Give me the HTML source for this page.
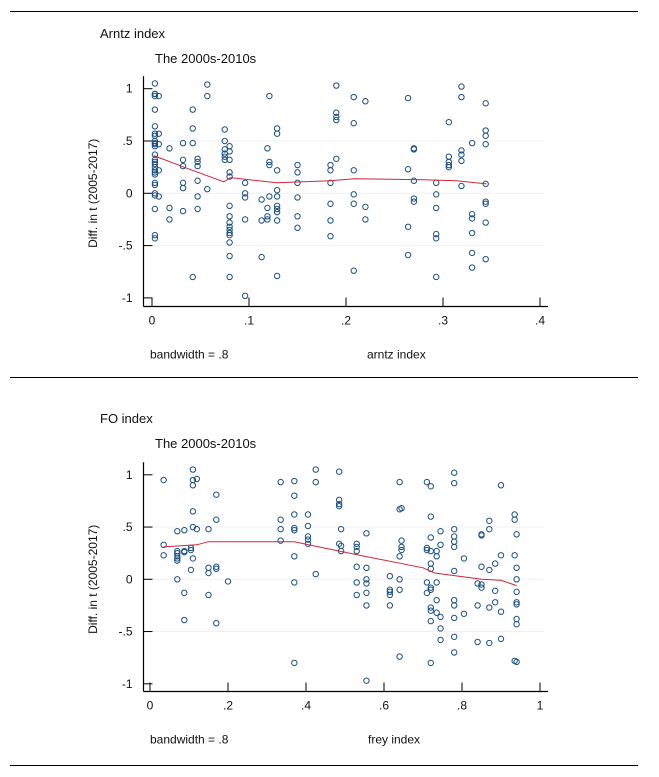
<!DOCTYPE html>
<html><head><meta charset="utf-8"><style>
body{margin:0;background:#fff;}
svg{display:block;font-family:"Liberation Sans","DejaVu Sans",sans-serif;}
</style></head><body>
<svg id="fig" width="659" height="777" viewBox="0 0 659 777" xmlns="http://www.w3.org/2000/svg">
<rect x="0" y="0" width="659" height="777" fill="#fff"/>
<line x1="10" y1="11.5" x2="638" y2="11.5" stroke="#000" stroke-width="1"/>
<line x1="10" y1="377.5" x2="638" y2="377.5" stroke="#000" stroke-width="1"/>
<line x1="10" y1="765.5" x2="638" y2="765.5" stroke="#000" stroke-width="1"/>
<g id="p1"></g>
<g id="p2"></g>
</svg>
<script>
// ---- Panel 1 data: Arntz index ----
const arntzX = [0.003,0.007,0.018,0.032,0.042,0.047,0.057,0.075,0.08,0.096,0.113,0.119,0.121,0.129,0.15,0.184,0.19,0.208,0.22,0.264,0.27,0.293,0.306,0.319,0.33,0.344];
const arntzY = [
 [1.05,.95,.95,.93,.8,.64,.57,.55,.5,.48,.47,.45,.37,.32,.3,.28,.25,.22,.2,.18,.1,.08,0,-.02,-.15,-.4,-.43],
 [.93,.47,.57,.22,-.03],[.43,-.14,-.25],[.48,.32,.26,.1,.05,-.17],[.8,.62,.48,-.8],[.33,.3,.26,.12,-.03,-.15],
 [1.04,.93,.04],[.61,.5,.42,.38,.35,.32],[.45,.4,.32,.2,.16,-.12,-.22,-.28,-.32,-.35,-.38,-.4,-.47,-.6,-.8],
 [.1,0,-.04,-.25,-.98],[-.06,-.26,-.61],[.43,-.14,-.22,-.25],[.93,.3,.27,-.03],
 [.62,.57,.22,.03,-.03,-.12,-.15,-.18,-.26,-.79],[.27,.2,.1,-.04,-.22,-.33],[.27,.22,.1,-.1,-.26,-.41],
 [1.03,.77,.73,.7,.33],[.92,.67,.22,-.01,-.1,-.74],[.88,-.13,-.25],[.91,.23,-.32,-.59],[.43,.42,.12,-.05,-.08],
 [.1,-.01,-.14,-.39,-.43,-.8],[.68,.35,.3,.27,.25],[1.02,.92,.41,.37,.31,.07],[.48,-.2,-.24,-.38,-.57,-.71],
 [.86,.6,.55,.47,.09,-.08,-.1,-.28,-.63]];
const arntzLowX = [0.002,0.033,0.074,0.081,0.129,0.184,0.208,0.28,0.314,0.345];
const arntzLowY = [0.36,0.25,0.11,0.15,0.10,0.12,0.14,0.13,0.12,0.09];
const arntzXTicks = [0,0.1,0.2,0.3,0.4];
const arntzXTickLabels = ["0",".1",".2",".3",".4"];
// ---- Panel 2 data: FO index ----
const foX = [0.035,0.07,0.088,0.105,0.11,0.12,0.15,0.17,0.2,0.335,0.37,0.405,0.425,0.485,0.49,0.53,0.555,0.615,0.64,0.645,0.71,0.72,0.735,0.745,0.78,0.805,0.84,0.85,0.87,0.885,0.9,0.935,0.94];
const foY = [
 [.95,.33,.23],[.46,.27,.25,.22,.2,.18,0],[.47,.27,.26,-.13,-.39],[.3,.28,.09],[1.05,.95,.9,.65,.5,.2],[.96,.48],
 [.48,.11,.06,-.15],[.81,.57,.12,.1,-.42],[-.02],[.93,.57,.48,.37],[.94,.8,.62,.49,.47,.22,-.03,-.8],
 [.62,.51,.41,.38,.34],[1.05,.93,.05],[1.03,.76,.72,.7,.34],[.48,.32,.27],[.34,.31,.27,.12,-.03,-.15],
 [.44,.11,0,-.04,-.13,-.25,-.97],[.03,-.1,-.12,-.15,-.25],[.93,.67,.22,0,-.1,-.74],[.68,.37,.31,.28],
 [.93,.3,.28,-.03,-.13],[.89,.6,.4,.27,.15,.1,-.08,-.1,-.27,-.3,-.4,-.8],[.27,.22,-.03,-.2,-.32],
 [.46,.33,-.36,-.47,-.58],[1.02,.92,.48,.41,.36,.31,.08,-.2,-.25,-.37,-.55,-.7],[.2,-.33],[-.04,-.25,-.6],
 [.43,.42,.12,-.05,-.08],[.56,.48,.09,-.27,-.61],[.15,-.11,-.22],[.9,.23,-.31,-.57],[.62,.57,.23,-.78],
 [.43,.11,0,-.12,-.22,-.24,-.38,-.43,-.79]];
const foLowX = [0.035,0.12,0.15,0.37,0.42,0.55,0.7,0.73,0.85,0.9,0.94];
const foLowY = [0.31,0.33,0.36,0.36,0.32,0.22,0.11,0.06,0.0,-0.01,-0.06];
const foXTicks = [0,0.2,0.4,0.6,0.8,1];
const foXTickLabels = ["0",".2",".4",".6",".8","1"];
const yTicks = [1,0.5,0,-0.5,-1];
const yTickLabels = ["1",".5","0","-.5","-1"];

const NS = "http://www.w3.org/2000/svg";
function mk(parent, tag, attrs, text){
  const e = document.createElementNS(NS, tag);
  for (const k in attrs) e.setAttribute(k, attrs[k]);
  if (text !== undefined) e.textContent = text;
  parent.appendChild(e);
  return e;
}
function panel(g, cfg){
  const sx = v => cfg.x0 + (v - cfg.xmin) / (cfg.xmax - cfg.xmin) * (cfg.x1 - cfg.x0);
  const sy = v => cfg.y0 - v * cfg.yu;
  let t;
  t = mk(g,'text',{x:100,y:cfg.top+28,'font-size':13,fill:'#111'},cfg.title);
  
  
  t = mk(g,'text',{x:155,y:cfg.top+53,'font-size':13,fill:'#111'},'The 2000s-2010s');
  
  
  [0.5,0,-0.5].forEach(v=>{
    const l = mk(g,'line',{x1:cfg.ax+1,x2:cfg.x1+4,y1:sy(v),y2:sy(v),stroke:'#eef0f3','stroke-width':1});
    
    
  });
  const ay = mk(g,'line',{x1:cfg.ax,x2:cfg.ax,y1:cfg.y0-cfg.yu*1.12,y2:cfg.by,stroke:'#000','stroke-width':1.2});
  
  
  const ax = mk(g,'line',{x1:cfg.ax,x2:cfg.x1+8,y1:cfg.by,y2:cfg.by,stroke:'#000','stroke-width':1.2});
  
  
  yTicks.forEach((v,i)=>{
    const tk = mk(g,'line',{x1:cfg.ax,x2:cfg.ax+9,y1:sy(v),y2:sy(v),stroke:'#000','stroke-width':1});
    
    
    const lb = mk(g,'text',{x:cfg.ax-11,y:sy(v)+4,'font-size':12,'text-anchor':'end',fill:'#111'},yTickLabels[i]);
    
    
  });
  cfg.xt.forEach((v,i)=>{
    const tk = mk(g,'line',{x1:sx(v),x2:sx(v),y1:cfg.by,y2:cfg.by-9,stroke:'#000','stroke-width':1});
    
    
    const lb = mk(g,'text',{x:sx(v),y:cfg.by+18,'font-size':12,'text-anchor':'middle',fill:'#111'},cfg.xtl[i]);
    
    
  });
  const yt = mk(g,'text',{x:0,y:0,'font-size':12,'text-anchor':'middle',fill:'#111',transform:`translate(97,${sy(0)}) rotate(-90)`},'Diff. in t (2005-2017)');
  
  
  const bw = mk(g,'text',{x:150,y:cfg.by+52,'font-size':12,fill:'#111'},'bandwidth = .8');
  
  
  const xtt = mk(g,'text',{x:cfg.xtx,y:cfg.by+52,'font-size':12,fill:'#111'},cfg.xtitle);
  
  
  cfg.px.forEach((xv,i)=>{
    cfg.py[i].forEach(yv=>{
      const c = mk(g,'circle',{cx:sx(xv),cy:sy(yv),r:2.7,fill:'none',stroke:'#1a4f82','stroke-width':1});
      
      
    });
  });
  const d = cfg.lx.map((xv,i)=>(i?'L':'M')+sx(xv).toFixed(1)+','+sy(cfg.ly[i]).toFixed(1)).join(' ');
  const p = mk(g,'path',{d:d,fill:'none',stroke:'#d0263a','stroke-width':1});
  
  
}
panel(document.getElementById('p1'),{top:10,title:'Arntz index',xmin:0,xmax:0.4,x0:152,x1:540,y0:193.3,yu:104.6,ax:143.5,by:306.5,
  xt:arntzXTicks,xtl:arntzXTickLabels,xtitle:'arntz index',xtx:367,px:arntzX,py:arntzY,lx:arntzLowX,ly:arntzLowY});
panel(document.getElementById('p2'),{top:395,title:'FO index',xmin:0,xmax:1,x0:150,x1:540,y0:579.3,yu:104.5,ax:143.5,by:691.5,
  xt:foXTicks,xtl:foXTickLabels,xtitle:'frey index',xtx:368,px:foX,py:foY,lx:foLowX,ly:foLowY});
</script>
</body></html>
